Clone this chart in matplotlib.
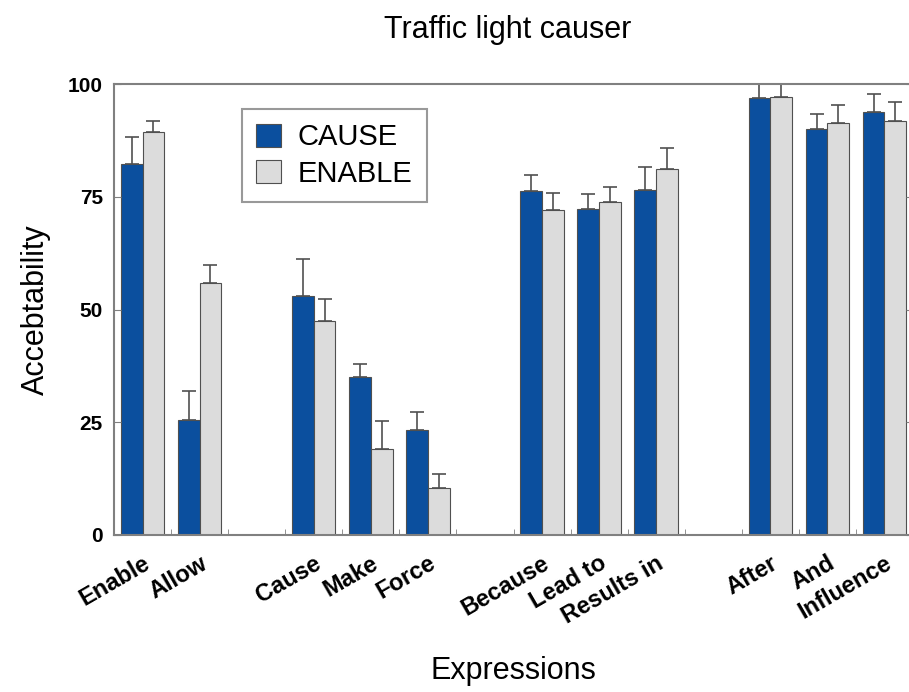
import matplotlib
matplotlib.use("Agg")
import matplotlib.pyplot as plt
import numpy as np

plt.rcParams['font.family'] = ['Liberation Sans', 'DejaVu Sans']

# Dados
groups = [["Enable", "Allow"],
          ["Cause", "Make", "Force"],
          ["Because", "Lead to", "Results in"],
          ["After", "And", "Influence"]]
cause_vals = [82.3, 25.5, 53.0, 35.0, 23.3, 76.3, 72.3, 76.6, 96.8, 90.0, 93.7]
cause_err = [6.0, 6.5, 8.2, 2.9, 4.0, 3.5, 3.3, 4.9, 3.3, 3.3, 4.0]
enable_vals = [89.4, 55.8, 47.5, 19.0, 10.4, 72.0, 73.8, 81.1, 97.2, 91.4, 91.8]
enable_err = [2.5, 4.1, 4.8, 6.3, 3.1, 3.8, 3.4, 4.8, 3.0, 3.9, 4.1]

blue = '#0b4f9e'
grey = '#dcdcdc'
edge = '#505050'

# posicoes: um espaco vazio entre grupos
x = []
labels = []
slot = 0
for g in groups:
    for name in g:
        x.append(slot + 0.5)
        labels.append(name)
        slot += 1
    slot += 1
n_slots = slot - 1
x = np.array(x)

fig = plt.figure(figsize=(9.09, 6.92), dpi=100)
ax = fig.add_axes([114/909, 1 - 535/692, 799/909, 451/692])

w = 0.38
ax.bar(x - w/2, cause_vals, w, color=blue, edgecolor=edge, linewidth=0.8, label='CAUSE',
       yerr=[np.zeros(len(cause_err)), cause_err], error_kw=dict(ecolor=edge, elinewidth=1.2, capsize=5, capthick=1.2))
ax.bar(x + w/2, enable_vals, w, color=grey, edgecolor=edge, linewidth=0.8, label='ENABLE',
       yerr=[np.zeros(len(enable_err)), enable_err], error_kw=dict(ecolor=edge, elinewidth=1.2, capsize=5, capthick=1.2))

ax.set_xlim(0, n_slots)
ax.set_ylim(0, 100)
ax.set_yticks([0, 25, 50, 75, 100])
ax.set_yticklabels(['0', '25', '50', '75', '100'], fontsize=15, fontweight='bold')
ax.tick_params(axis='y', direction='in', right=True, length=5, color='#808080', pad=8)

ax.set_xticks(x)
ax.set_xticklabels(labels, fontsize=17, fontweight='bold', rotation=30, ha='right', rotation_mode='anchor')
ax.tick_params(axis='x', which='major', length=0, pad=12)
ax.set_xticks(np.arange(1, n_slots), minor=True)
ax.tick_params(axis='x', which='minor', direction='in', length=4, color='#808080')

for s in ax.spines.values():
    s.set_color('#808080')
    s.set_linewidth(1.5)

ax.set_xlabel('Expressions', fontsize=22, labelpad=20)
ax.set_ylabel('Accebtability', fontsize=22, labelpad=12)
fig.text(508/909, 1 - 30/692, 'Traffic light causer', fontsize=22, ha='center', va='center')

leg = ax.legend(loc='upper left', bbox_to_anchor=(0.16, 0.945), fontsize=21, frameon=True, fancybox=False,
                edgecolor='#808080', handlelength=0.85, handleheight=0.85, labelspacing=0.28, borderpad=0.5,
                handletextpad=0.55, borderaxespad=0)
leg.get_frame().set_linewidth(1.5)

fig.savefig('out.png', dpi=100)
